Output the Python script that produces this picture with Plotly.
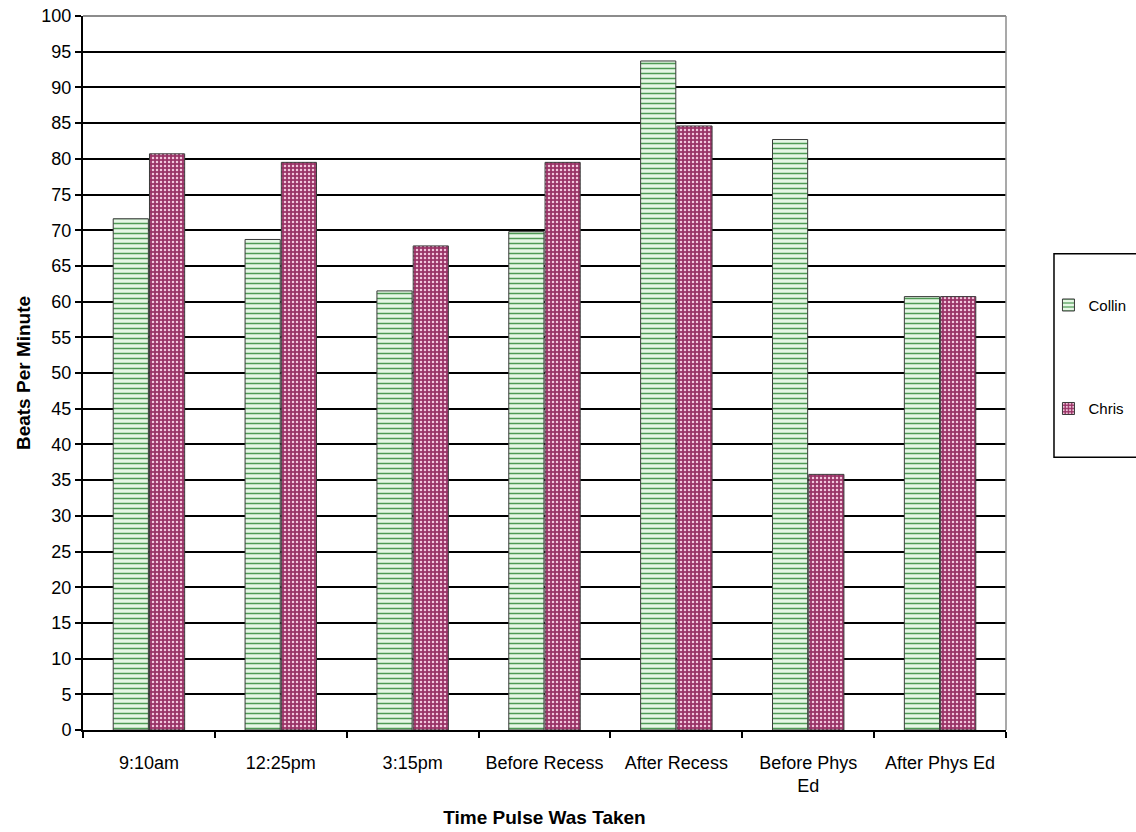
import plotly.graph_objects as go

# Pulse readings (beats per minute) taken at different times of the day
times = ["9:10am", "12:25pm", "3:15pm", "Before Recess", "After Recess",
         "Before Phys<br>Ed", "After Phys Ed"]
collin = [71.6, 68.7, 61.5, 69.8, 93.7, 82.7, 60.7]
chris = [80.7, 79.5, 67.8, 79.5, 84.6, 35.8, 60.7]
y_ticks = list(range(0, 101, 5))

FONT = "Liberation Sans, Arial, sans-serif"

fig = go.Figure()
fig.add_trace(go.Bar(
    name="Collin", x=times, y=collin, legendgroup="a",
    marker=dict(
        color="#e3f6e3",
        line=dict(color="#3a3a3a", width=1),
        pattern=dict(shape="-", fgcolor="#4f9a55", bgcolor="#e6f7e6",
                     size=5, solidity=0.3, fillmode="replace"),
    ),
))
fig.add_trace(go.Bar(
    name="Chris", x=times, y=chris, legendgroup="b",
    marker=dict(
        color="#993366",
        line=dict(color="#3a3a3a", width=1),
        pattern=dict(shape=".", fgcolor="#f2c6dc", bgcolor="#993366",
                     size=4, solidity=0.3, fillmode="replace"),
    ),
))

# Gray frame on the top and right of the plotting area, plus the legend box
fig.add_shape(type="line", xref="x domain", yref="y domain",
              x0=0, x1=1, y0=1, y1=1, line=dict(color="#8c8c8c", width=2),
              layer="above")
fig.add_shape(type="line", xref="x domain", yref="y domain",
              x0=1, x1=1, y0=0, y1=1, line=dict(color="#8c8c8c", width=1.5),
              layer="above")
fig.add_shape(type="rect", xref="paper", yref="paper",
              x0=1.052, x1=1.2, y0=0.382, y1=0.667,
              line=dict(color="black", width=1.5), fillcolor="white",
              layer="below")

fig.update_layout(
    width=1136, height=832,
    margin=dict(l=83, r=130, t=16, b=102, autoexpand=False),
    paper_bgcolor="white", plot_bgcolor="white",
    barmode="group", bargap=0.45, bargroupgap=0.03,
    font=dict(family=FONT, size=18, color="black"),
    showlegend=True,
    legend=dict(
        x=1.046, xanchor="left", y=0.618, yanchor="top",
        bgcolor="rgba(0,0,0,0)", borderwidth=0,
        font=dict(family=FONT, size=15),
        traceorder="grouped", tracegroupgap=81,
        itemwidth=30,
    ),
)

fig.update_xaxes(
    type="category", tickson="boundaries", automargin=False,
    ticks="outside", ticklen=6, tickwidth=1.5, tickcolor="black",
    showline=True, linecolor="black", linewidth=2,
    showgrid=False, ticklabelstandoff=15,
    tickfont=dict(family=FONT, size=18),
    title=dict(text="<b>Time Pulse Was Taken</b>",
               font=dict(family=FONT, size=19), standoff=16),
)
fig.update_yaxes(
    range=[0, 100], tickvals=y_ticks, automargin=False,
    ticks="outside", ticklen=6, tickwidth=1.5, tickcolor="black",
    showline=True, linecolor="black", linewidth=2,
    showgrid=True, gridcolor="black", gridwidth=1.8,
    zeroline=False,
    tickfont=dict(family=FONT, size=18),
    title=dict(text="<b>Beats Per Minute</b>",
               font=dict(family=FONT, size=19), standoff=6),
)

fig.write_html("out.html")
